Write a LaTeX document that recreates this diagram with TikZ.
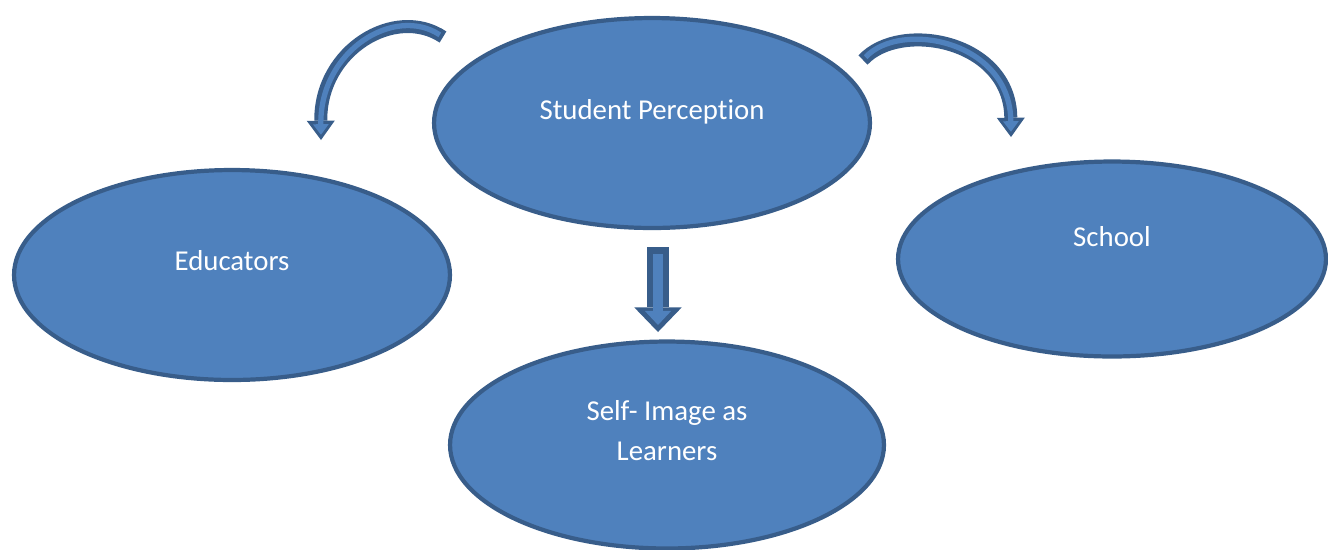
\documentclass[tikz,border=0pt]{standalone}
\usepackage{fontspec}
\setmainfont{Carlito}[Ligatures=NoCommon]
\usetikzlibrary{shapes.geometric,arrows.meta}
\definecolor{myblue}{HTML}{4F81BD}
\definecolor{myedge}{HTML}{385D8A}

\begin{document}
\begin{tikzpicture}[x=0.02cm,y=-0.02cm,
  bubble/.style={ellipse, draw=myedge, fill=myblue, line width=2.4pt, inner sep=0pt},
  bubbletext/.style={text=white, font=\fontsize{16.4}{22.7}\selectfont, align=center},
  arrowout/.style={draw=myedge, line width=7.4pt, -{Triangle[length=11pt,width=16pt,line width=0pt]}},
  arrowin/.style={draw=myblue, line width=3pt, shorten >=3pt, shorten <=2.2pt, -{Triangle[length=6pt,width=9pt,line width=0pt]}},
  blockout/.style={draw=myedge, line width=13pt, -{Triangle[length=14pt,width=27pt,line width=0pt]}},
  blockin/.style={draw=myblue, line width=5.7pt, shorten >=4pt, shorten <=4pt, -{Triangle[length=8pt,width=15pt,line width=0pt]}}]
\useasboundingbox (0,0) rectangle (1328,549);

\node[bubble, minimum width=8.72cm, minimum height=4.2cm,
  label={[bubbletext, yshift=0.22cm]center:Student Perception}] (percep) at (652,123) {};
\node[bubble, minimum width=8.72cm, minimum height=4.2cm,
  label={[bubbletext, yshift=0.28cm]center:Educators}] (educ) at (232,275) {};
\node[bubble, minimum width=8.56cm, minimum height=3.9cm,
  label={[bubbletext, yshift=0.44cm]center:School}] (school) at (1112,259) {};
\node[bubble, minimum width=8.68cm, minimum height=4.14cm,
  label={[bubbletext, yshift=0.28cm]center:Self- Image as\\Learners}] (self) at (667,445) {};

% arrow ends
\coordinate (ltail) at (443,37);
\coordinate (lhead) at (321,140);
\coordinate (rtail) at (863,60);
\coordinate (rhead) at (1011,137);
\coordinate (dtail) at (658,247);
\coordinate (dhead) at (658,332);

% curved arrows
\draw[arrowout] (ltail) .. controls (395,5) and (320,50) .. (lhead);
\draw[arrowin] (ltail) .. controls (395,5) and (320,50) .. (lhead);
\draw[arrowout] (rtail) .. controls (900,20) and (1010,40) .. (rhead);
\draw[arrowin] (rtail) .. controls (900,20) and (1010,40) .. (rhead);

% down arrow
\draw[blockout] (dtail) -- (dhead);
\draw[blockin] (dtail) -- (dhead);

\end{tikzpicture}
\end{document}
